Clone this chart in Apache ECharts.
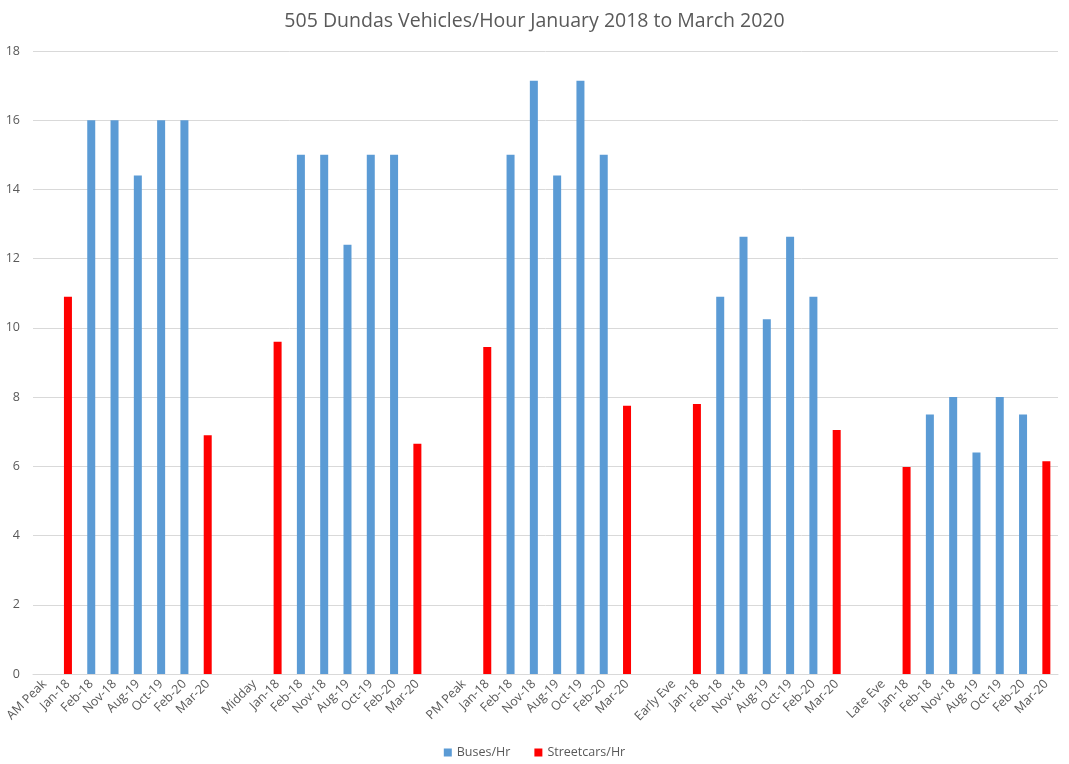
<!DOCTYPE html>
<html><head><meta charset="utf-8">
<script src="https://cdn.jsdelivr.net/npm/echarts@6/dist/echarts.min.js"></script>
<style>html,body{margin:0;padding:0;background:#fff}#c{width:1069px;height:764px}</style>
</head><body><div id="c"></div>
<script>
const categories = [
 'AM Peak','Jan-18','Feb-18','Nov-18','Aug-19','Oct-19','Feb-20','Mar-20','',
 'Midday','Jan-18','Feb-18','Nov-18','Aug-19','Oct-19','Feb-20','Mar-20','',
 'PM Peak','Jan-18','Feb-18','Nov-18','Aug-19','Oct-19','Feb-20','Mar-20','',
 'Early Eve','Jan-18','Feb-18','Nov-18','Aug-19','Oct-19','Feb-20','Mar-20','',
 'Late Eve','Jan-18','Feb-18','Nov-18','Aug-19','Oct-19','Feb-20','Mar-20'
];
const buses = [
 null,null,16,16,14.4,16,16,null,null,
 null,null,15,15,12.4,15,15,null,null,
 null,null,15,17.14,14.4,17.14,15,null,null,
 null,null,10.9,12.63,10.25,12.63,10.9,null,null,
 null,null,7.5,8,6.4,8,7.5,null
];
const streetcars = [
 null,10.9,null,null,null,null,null,6.9,null,
 null,9.6,null,null,null,null,null,6.65,null,
 null,9.45,null,null,null,null,null,7.75,null,
 null,7.8,null,null,null,null,null,7.05,null,
 null,5.98,null,null,null,null,null,6.15
];
const yTicks = {min:0, max:18, interval:2};

const FF = 'Open Sans, Liberation Sans, sans-serif';
const chart = echarts.init(document.getElementById('c'));
chart.setOption({
  animation:false,
  title:{text:'505 Dundas Vehicles/Hour January 2018 to March 2020',left:'center',top:6,
    textStyle:{fontFamily:FF,fontSize:19.5,fontWeight:'normal',color:'#595959'}},
  legend:{bottom:0,left:'center',itemWidth:8,itemHeight:8,itemGap:24,icon:'rect',
    textStyle:{fontFamily:FF,fontSize:12.5,color:'#595959'},
    data:['Buses/Hr','Streetcars/Hr']},
  grid:{left:33,right:11,top:51,bottom:90},
  xAxis:{type:'category',data:categories,
    axisLine:{lineStyle:{color:'#d9d9d9'}},axisTick:{show:false},
    axisLabel:{rotate:45,interval:0,fontFamily:FF,fontSize:12.5,color:'#595959',margin:8}},
  yAxis:{type:'value',min:yTicks.min,max:yTicks.max,interval:yTicks.interval,
    axisLine:{show:false},axisTick:{show:false},
    splitLine:{lineStyle:{color:'#d9d9d9'}},
    axisLabel:{fontFamily:FF,fontSize:12.5,color:'#595959',margin:13}},
  series:[
    {name:'Buses/Hr',type:'bar',stack:'s',data:buses,barWidth:8,itemStyle:{color:'#5b9bd5'}},
    {name:'Streetcars/Hr',type:'bar',stack:'s',data:streetcars,barWidth:8,itemStyle:{color:'#ff0000'}}
  ]
});
</script></body></html>
